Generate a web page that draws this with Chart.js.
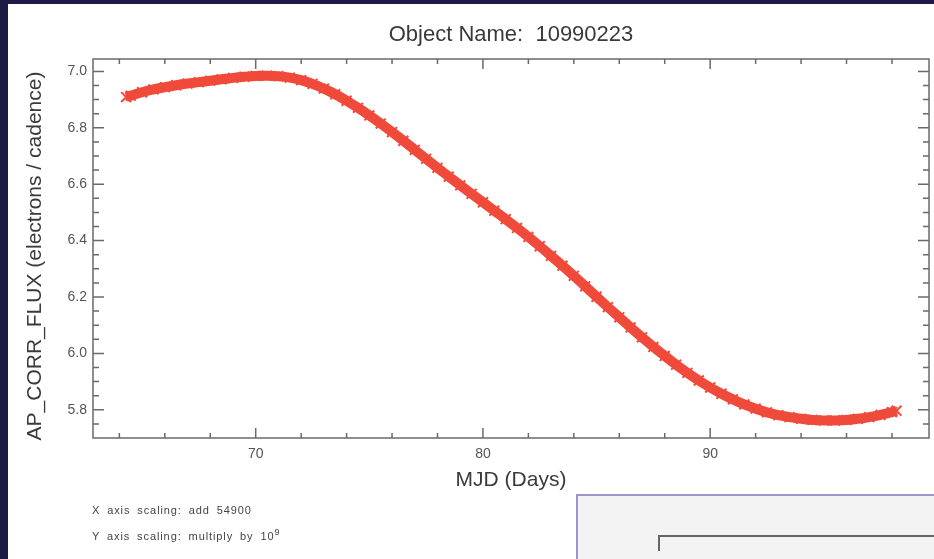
<!DOCTYPE html>
<html>
<head>
<meta charset="utf-8">
<title>Object Name: 10990223</title>
<script src="https://cdn.jsdelivr.net/npm/chart.js@4.4.1/dist/chart.umd.min.js"></script>
<style>
  html, body { margin: 0; padding: 0; }
  body {
    width: 934px; height: 559px; position: relative; overflow: hidden;
    background: #1d1a45;
    font-family: "Liberation Sans", Arial, sans-serif;
  }
  #panel { position: absolute; left: 8px; top: 4px; right: 0; bottom: 0; background: #fff; }
  #chart { position: absolute; left: 0; top: 0; }
  .note {
    position: absolute; left: 92px; font-size: 11px; color: #444;
    letter-spacing: 0.9px; word-spacing: 3px; white-space: nowrap;
  }
  .note sup { font-size: 9px; }
  #inset {
    position: absolute; left: 576px; top: 494px; width: 400px; height: 100px;
    background: #f3f3f3; border: 2px solid #9c94cc;
  }
  #inset-axis {
    position: absolute; left: 80px; top: 39px; width: 300px; height: 14px;
    border-top: 2px solid #666; border-left: 2px solid #666;
  }
</style>
</head>
<body>
<div id="panel"></div>
<canvas id="chart" width="934" height="559"></canvas>
<div class="note" style="top:504px">X axis scaling: add 54900</div>
<div class="note" style="top:527px">Y axis scaling: multiply by 10<sup>9</sup></div>
<div id="inset"><div id="inset-axis"></div></div>

<script>
// light curve values (MJD - 54900, flux / 1e9)
const mjd = [
  64.3, 64.5, 65.0, 65.5, 66.0, 66.5, 67.0, 67.5, 68.0, 68.5,
  69.0, 69.5, 70.0, 70.5, 71.0, 71.5, 72.0, 72.5, 73.0, 73.5,
  74.0, 74.5, 75.0, 75.5, 76.0, 76.5, 77.0, 77.5, 78.0, 78.5,
  79.0, 79.5, 80.0, 80.5, 81.0, 81.5, 82.0, 82.5, 83.0, 83.5,
  84.0, 84.5, 85.0, 85.5, 86.0, 86.5, 87.0, 87.5, 88.0, 88.5,
  89.0, 89.5, 90.0, 90.5, 91.0, 91.5, 92.0, 92.5, 93.0, 93.5,
  94.0, 94.5, 95.0, 95.5, 96.0, 96.5, 97.0, 97.5, 98.0, 98.2
]
const flux = [
  6.909, 6.914, 6.926, 6.936, 6.944, 6.951, 6.957, 6.962, 6.967, 6.972,
  6.977, 6.981, 6.984, 6.985, 6.983, 6.978, 6.969, 6.956, 6.939, 6.919,
  6.896, 6.871, 6.844, 6.815, 6.785, 6.754, 6.722, 6.690, 6.658, 6.627,
  6.596, 6.566, 6.536, 6.506, 6.476, 6.445, 6.413, 6.380, 6.346, 6.311,
  6.275, 6.238, 6.201, 6.164, 6.128, 6.092, 6.057, 6.023, 5.991, 5.960,
  5.931, 5.904, 5.879, 5.857, 5.837, 5.819, 5.804, 5.791, 5.781, 5.774,
  5.768, 5.764, 5.762, 5.762, 5.764, 5.768, 5.774, 5.782, 5.792, 5.797
]

const xTicks = [70, 80, 90]
const yTicks = [5.8, 6.0, 6.2, 6.4, 6.6, 6.8, 7.0]
const xMinor = [64, 66, 68, 72, 74, 76, 78, 82, 84, 86, 88, 92, 94, 96, 98]
const yMinor = [5.75, 5.85, 5.9, 5.95, 6.05, 6.1, 6.15, 6.25, 6.3, 6.35,
  6.45, 6.5, 6.55, 6.65, 6.7, 6.75, 6.85, 6.9, 6.95]

const chartTitle = 'Object Name:  10990223'
const xTitle = 'MJD (Days)'
const yTitle = 'AP_CORR_FLUX (electrons / cadence)'

const RED = '#f04a3b'
const AXIS = '#6a6a6a'
const FONT = '"Liberation Sans", Arial, sans-serif'

// boxed frame with inward ticks on all four sides, plus titles
const boxAxes = {
  id: 'boxAxes',
  beforeDatasetsDraw(chart) {
    const { ctx, chartArea: a, scales: { x, y } } = chart
    ctx.save()
    ctx.strokeStyle = AXIS
    ctx.lineWidth = 1.5
    ctx.strokeRect(a.left, a.top, a.right - a.left, a.bottom - a.top)
    ctx.beginPath()
    const xt = (vals, len) => vals.forEach(v => {
      const px = x.getPixelForValue(v)
      ctx.moveTo(px, a.bottom); ctx.lineTo(px, a.bottom - len)
      ctx.moveTo(px, a.top); ctx.lineTo(px, a.top + len)
    })
    const yt = (vals, len) => vals.forEach(v => {
      const py = y.getPixelForValue(v)
      ctx.moveTo(a.left, py); ctx.lineTo(a.left + len, py)
      ctx.moveTo(a.right, py); ctx.lineTo(a.right - len, py)
    })
    xt(xTicks, 10); xt(xMinor, 5)
    yt(yTicks, 11); yt(yMinor, 6)
    ctx.stroke()
    ctx.restore()
  },
  afterDraw(chart) {
    const { ctx, chartArea: a } = chart
    ctx.save()
    ctx.fillStyle = '#3a3a3a'
    ctx.textAlign = 'center'
    ctx.textBaseline = 'middle'
    ctx.font = '22px ' + FONT
    ctx.fillText(chartTitle, (a.left + a.right) / 2, 35)
    ctx.font = '21px ' + FONT
    ctx.fillText(xTitle, (a.left + a.right) / 2, 480)
    ctx.translate(35, 256)
    ctx.rotate(-Math.PI / 2)
    ctx.fillText(yTitle, 0, 0)
    ctx.restore()
  }
}

new Chart(document.getElementById('chart'), {
  type: 'scatter',
  data: {
    datasets: [{
      data: mjd.map((d, i) => ({ x: d, y: flux[i] })),
      showLine: true,
      tension: 0.4,
      borderColor: RED,
      borderWidth: 10,
      pointStyle: 'crossRot',
      pointRadius: 7,
      pointBorderWidth: 2,
      pointBorderColor: RED,
      pointBackgroundColor: RED
    }]
  },
  options: {
    responsive: false,
    animation: false,
    devicePixelRatio: 1,
    layout: { autoPadding: false, padding: { left: 0, top: 59, right: 5, bottom: 60 } },
    plugins: {
      legend: { display: false },
      tooltip: { enabled: false }
    },
    scales: {
      x: {
        type: 'linear',
        min: 62.84,
        max: 99.63,
        grid: { display: false, drawTicks: false },
        border: { display: false },
        afterBuildTicks: s => { s.ticks = xTicks.map(v => ({ value: v })) },
        afterFit: s => { s.height = 61 },
        ticks: { color: '#555', padding: 8, font: { family: FONT, size: 14 } }
      },
      y: {
        type: 'linear',
        min: 5.7,
        max: 7.044,
        grid: { display: false, drawTicks: false },
        border: { display: false },
        afterBuildTicks: s => { s.ticks = yTicks.map(v => ({ value: v })) },
        afterFit: s => { s.width = 93 },
        ticks: {
          color: '#555', padding: 6, font: { family: FONT, size: 14 },
          callback: v => v.toFixed(1)
        }
      }
    }
  },
  plugins: [boxAxes]
})
</script>
</body>
</html>
